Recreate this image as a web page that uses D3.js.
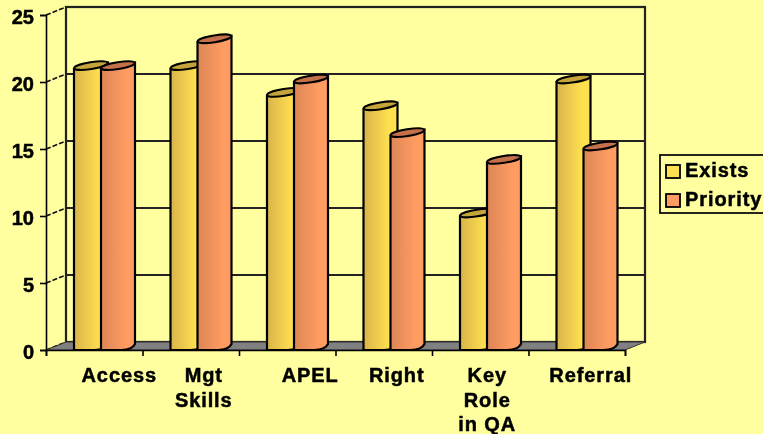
<!DOCTYPE html>
<html>
<head>
<meta charset="utf-8">
<script src="https://cdn.jsdelivr.net/npm/d3@7"></script>
<style>
    html, body { margin: 0; padding: 0; background: #ffffa0; overflow: hidden; }
    text { font-family: "Liberation Sans", Arial, sans-serif; font-weight: bold; fill: #000; stroke: #000; stroke-width: 0.5px; }
</style>
</head>
<body>
<div id="chart"></div>
<script>
// Values
const categories = [['Access'], ['Mgt', 'Skills'], ['APEL'], ['Right'], ['Key', 'Role', 'in QA'], ['Referral']];
const seriesNames = ['Exists', 'Priority'];
const exists = [21, 21, 19, 18, 10, 20];
const priority = [21, 23, 20, 16, 14, 15];
const yTicks = [0, 5, 10, 15, 20, 25];

// Labels in the original don't sit on the category centre
const labelShift = [25, 13, 23, 13, 7, 14];

const width = 763, height = 434;
const plot = { left: 46, right: 625, top: 15, bottom: 350 };
const depth = { x: 20, y: -8 };
const barWidth = 34;

const colors = {
    Exists: { dark: '#d8b44c', light: '#ffe050', top: '#c4a43a' },
    Priority: { dark: '#dc8656', light: '#ff9c62', top: '#c4704a' },
};

const svg = d3.select('#chart').append('svg')
    .attr('width', width)
    .attr('height', height)
    .style('display', 'block');

const defs = svg.append('defs');
defs.append('filter').attr('id', 'soft')
    .append('feGaussianBlur').attr('stdDeviation', 0.45);

seriesNames.forEach(name => {
    const grad = defs.append('linearGradient').attr('id', 'grad' + name);
    grad.append('stop').attr('offset', '0%').attr('stop-color', colors[name].dark);
    grad.append('stop').attr('offset', '75%').attr('stop-color', colors[name].light);
    grad.append('stop').attr('offset', '100%').attr('stop-color', colors[name].light);
});

const root = svg.append('g').attr('filter', 'url(#soft)');

const y = d3.scaleLinear().domain([0, 25]).range([plot.bottom, plot.top]);
const x = d3.scaleBand().domain(d3.range(categories.length)).range([plot.left, plot.right]);
const xSeries = d3.scalePoint().domain(seriesNames).range([45, 72]);
const xEdges = d3.scaleLinear().domain([0, categories.length]).range([plot.left, plot.right]);

// Back wall and grid
const wall = root.append('g').attr('fill', 'none').attr('stroke', '#222').attr('stroke-width', 2.2);
wall.append('rect')
    .attr('x', plot.left + depth.x)
    .attr('y', plot.top + depth.y)
    .attr('width', plot.right - plot.left)
    .attr('height', plot.bottom - plot.top);
wall.selectAll('line.grid')
    .data(yTicks.slice(1, -1))
    .enter()
    .append('line')
    .attr('class', 'grid')
    .attr('x1', plot.left + depth.x)
    .attr('x2', plot.right + depth.x)
    .attr('y1', d => y(d) + depth.y)
    .attr('y2', d => y(d) + depth.y);

// Diagonals joining the axis ticks to the wall
root.append('g').selectAll('line')
    .data(yTicks)
    .enter()
    .append('line')
    .attr('x1', plot.left)
    .attr('x2', plot.left + depth.x)
    .attr('y1', d => y(d))
    .attr('y2', d => y(d) + depth.y)
    .attr('stroke', '#111')
    .attr('stroke-width', 1.6)
    .attr('stroke-dasharray', '5,2');

// Floor
root.append('path')
    .attr('d', d3.line()([
        [plot.left, plot.bottom],
        [plot.left + depth.x, plot.bottom + depth.y],
        [plot.right + depth.x, plot.bottom + depth.y],
        [plot.right, plot.bottom],
    ]) + 'Z')
    .attr('fill', '#808080')
    .attr('stroke', '#333')
    .attr('stroke-width', 1);

// Cylinders, front face then slanted cap
function drawBar(g, name, i, value) {
    const left = x(i) + xSeries(name) - barWidth / 2;
    const right = left + barWidth;
    const top = y(value);
    const rise = 6;
    const body = d3.path();
    body.moveTo(left, top);
    body.lineTo(left, plot.bottom);
    body.lineTo(left + barWidth * 0.6, plot.bottom);
    body.quadraticCurveTo(right - 3, plot.bottom, right, plot.bottom - rise);
    body.lineTo(right, top - rise);
    body.closePath();
    g.append('path')
        .attr('d', body.toString())
        .attr('fill', 'url(#grad' + name + ')')
        .attr('stroke', '#000')
        .attr('stroke-width', 2.2);
    g.append('ellipse')
        .attr('cx', (left + right) / 2)
        .attr('cy', top - rise / 2)
        .attr('rx', barWidth / 2)
        .attr('ry', 3.4)
        .attr('transform', 'rotate(-9 ' + (left + right) / 2 + ' ' + (top - rise / 2) + ')')
        .attr('fill', colors[name].top)
        .attr('stroke', '#000')
        .attr('stroke-width', 2);
}

const bars = root.append('g');
categories.forEach((c, i) => {
    drawBar(bars, 'Exists', i, exists[i]);
    drawBar(bars, 'Priority', i, priority[i]);
});

// Axes
const yAxis = root.append('g')
    .attr('transform', 'translate(' + plot.left + ',0)')
    .call(d3.axisLeft(y).tickValues(yTicks).tickSize(6).tickPadding(6));
yAxis.selectAll('text').style('font-size', '20px').attr('dy', '0.42em');
yAxis.selectAll('line, path').attr('stroke', '#000').attr('stroke-width', 1.6);

const xAxis = root.append('g')
    .attr('transform', 'translate(0,' + plot.bottom + ')')
    .call(d3.axisBottom(xEdges).ticks(categories.length).tickSize(6).tickFormat(''));
xAxis.selectAll('line, path').attr('stroke', '#000').attr('stroke-width', 1.6);

// Category labels
const labels = root.append('g').selectAll('text')
    .data(categories)
    .enter()
    .append('text')
    .attr('text-anchor', 'middle')
    .style('font-size', '20px')
    .style('letter-spacing', '0.9px');
labels.selectAll('tspan')
    .data((d, i) => d.map((line, j) => ({ line, j, i })))
    .enter()
    .append('tspan')
    .attr('x', d => x(d.i) + x.bandwidth() / 2 + labelShift[d.i])
    .attr('y', d => 382 + d.j * 24.5)
    .text(d => d.line);

// Legend
const legend = root.append('g');
legend.append('rect')
    .attr('x', 660).attr('y', 155)
    .attr('width', 110).attr('height', 58)
    .attr('fill', 'none')
    .attr('stroke', '#111')
    .attr('stroke-width', 1.8);
const legendY = d3.scalePoint().domain(seriesNames).range([171, 200]);
seriesNames.forEach(name => {
    legend.append('rect')
        .attr('x', 666).attr('y', legendY(name) - 6)
        .attr('width', 14).attr('height', 13)
        .attr('fill', colors[name].light)
        .attr('stroke', '#000')
        .attr('stroke-width', 1.8);
    legend.append('text')
        .attr('x', 685).attr('y', legendY(name) + 6)
        .style('font-size', '20px')
        .style('letter-spacing', '0.9px')
        .text(name);
});
</script>
</body>
</html>
